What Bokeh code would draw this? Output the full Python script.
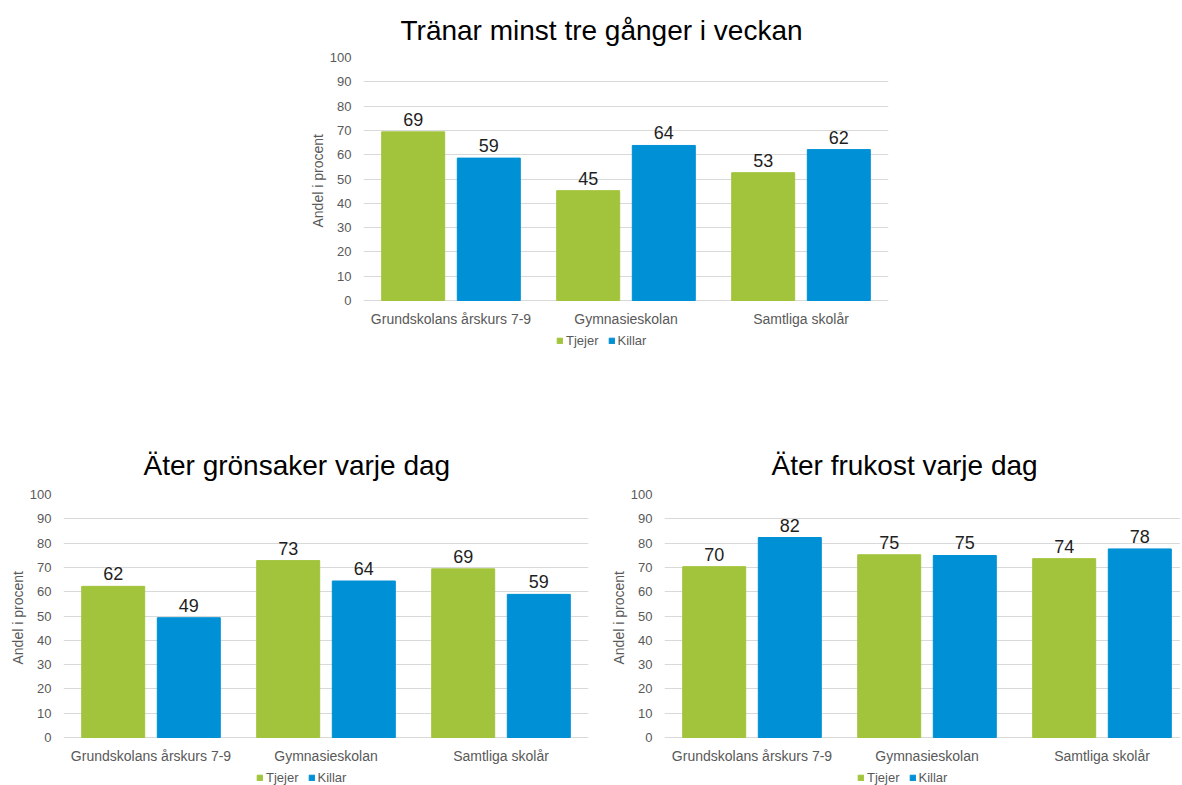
from bokeh.plotting import figure
from bokeh.layouts import column, row
from bokeh.models import Spacer, ColumnDataSource, Legend, LegendItem, FixedTicker, Range1d, Title
from bokeh.core.properties import value
from bokeh.transform import dodge
from bokeh.embed import file_html
from bokeh.resources import INLINE

categories = ["Grundskolans årskurs 7-9", "Gymnasieskolan", "Samtliga skolår"]
series = ["Tjejer", "Killar"]
y_ticks = [0, 10, 20, 30, 40, 50, 60, 70, 80, 90, 100]
y_label = "Andel i procent"

title_tranar = "Tränar minst tre gånger i veckan"
tranar_tjejer = [69.4, 45.2, 52.6]
tranar_killar = [58.6, 63.8, 62.1]

title_gronsaker = "Äter grönsaker varje dag"
gronsaker_tjejer = [62.2, 72.8, 69.4]
gronsaker_killar = [49.3, 64.4, 58.9]

title_frukost = "Äter frukost varje dag"
frukost_tjejer = [70.3, 75.2, 73.6]
frukost_killar = [82.3, 74.9, 77.6]

GREEN = "#A2C43C"
BLUE = "#0090D6"
FONT = "Liberation Sans"
GRID = "#D9D9D9"
AXIS_TEXT = "#595959"

PLOT_H = 243      # pixels for 0..100
CAT_PX = 175      # pixels per category


def make_chart(title, tjejer, killar, left_b, frame_w, right_b, top_b, below_px,
               title_off, title_standoff):
    x = list(range(len(categories)))
    src = ColumnDataSource(dict(
        x=x,
        tjejer=tjejer,
        killar=killar,
        tjejer_lbl=[str(round(v)) for v in tjejer],
        killar_lbl=[str(round(v)) for v in killar],
    ))
    cat_src = ColumnDataSource(dict(x=x, y=[0] * len(x), name=categories))
    x_end = -0.5 + frame_w / CAT_PX
    y_start = -below_px * 100.0 / PLOT_H
    frame_h = PLOT_H + below_px
    p = figure(width=left_b + frame_w + right_b, height=top_b + frame_h,
               x_range=Range1d(-0.5, x_end), y_range=Range1d(y_start, 100),
               x_axis_location=None,
               output_backend="svg", toolbar_location=None,
               min_border_left=left_b, min_border_right=right_b,
               min_border_top=top_b, min_border_bottom=0,
               title=title)
    p.outline_line_color = None
    p.background_fill_color = "white"
    p.border_fill_color = "white"

    p.title.text_font = FONT
    p.title.text_font_size = "28px"
    p.title.text_font_style = "normal"
    p.title.text_color = "#000000"
    p.title.align = "left"
    p.title.offset = title_off
    p.title.standoff = title_standoff

    w = 0.36
    off = 0.216
    g = p.vbar(x=dodge("x", -off), top="tjejer", width=w, source=src,
               fill_color=GREEN, line_color=GREEN)
    b = p.vbar(x=dodge("x", off), top="killar", width=w, source=src,
               fill_color=BLUE, line_color=BLUE)
    for col, lbl, dx in (("tjejer", "tjejer_lbl", -off), ("killar", "killar_lbl", off)):
        p.text(x=dodge("x", dx), y=col, text=lbl, source=src,
               text_align="center", text_baseline="bottom", y_offset=-6,
               text_font=value(FONT), text_font_size="18px", text_color="#1F1F1F")

    # category labels under the baseline
    p.text(x="x", y="y", text="name", source=cat_src,
           text_align="center", text_baseline="top", y_offset=10,
           text_font=value(FONT), text_font_size="14px", text_color=AXIS_TEXT)

    p.yaxis.ticker = FixedTicker(ticks=y_ticks)
    p.yaxis.axis_line_color = None
    p.yaxis.major_tick_line_color = None
    p.yaxis.minor_tick_line_color = None
    p.yaxis.major_label_standoff = 6
    p.yaxis.major_label_text_font = FONT
    p.yaxis.major_label_text_font_size = "13px"
    p.yaxis.major_label_text_color = AXIS_TEXT

    ylab = Title(text=y_label, align="left", offset=below_px + 121.5 - 48.5,
                 text_font=FONT, text_font_size="14px", text_font_style="normal",
                 text_color=AXIS_TEXT, standoff=2)
    p.add_layout(ylab, "left")

    p.xgrid.grid_line_color = None
    p.ygrid.grid_line_color = GRID
    p.ygrid.ticker = FixedTicker(ticks=y_ticks)

    legend = Legend(items=[LegendItem(label=series[0], renderers=[g]),
                           LegendItem(label=series[1], renderers=[b])],
                    orientation="horizontal", location=(193, below_px - 48),
                    border_line_color=None, background_fill_alpha=0,
                    glyph_width=7, glyph_height=7, label_standoff=3, spacing=9,
                    padding=0, margin=0, label_height=14,
                    label_text_font=FONT, label_text_font_size="13px",
                    label_text_color=AXIS_TEXT)
    p.add_layout(legend)
    return p


top = make_chart(title_tranar, tranar_tjejer, tranar_killar,
                 63, 525, 22, 57, 50, 37, 23)
left = make_chart(title_gronsaker, gronsaker_tjejer, gronsaker_killar,
                  63, 525, 13, 60, 48, 80, 27)
right = make_chart(title_frukost, frukost_tjejer, frukost_killar,
                   63, 516, 0, 60, 48, 107, 27)

layout = column(row(Spacer(width=300, height=10), top),
                Spacer(width=10, height=84),
                row(left, right))

open("out.html", "w").write(file_html(layout, INLINE))
